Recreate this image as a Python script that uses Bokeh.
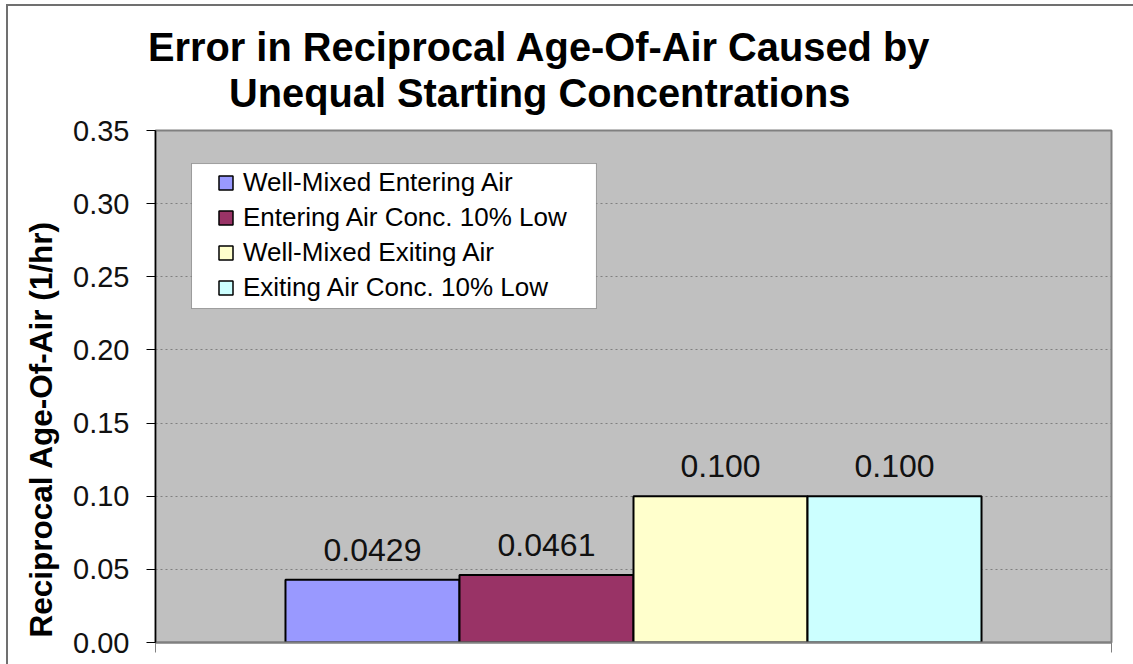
from bokeh.plotting import figure
from bokeh.models import (Range1d, FixedTicker, Title, Legend, LegendItem,
                          BoxAnnotation, ColumnDataSource)
from bokeh.core.properties import value
from bokeh.embed import file_html
from bokeh.resources import INLINE

# ---- data ----
series = ["Well-Mixed Entering Air", "Entering Air Conc. 10% Low",
          "Well-Mixed Exiting Air", "Exiting Air Conc. 10% Low"]
values = [0.0429, 0.0461, 0.100, 0.100]
value_labels = ["0.0429", "0.0461", "0.100", "0.100"]
colors = ["#9999FF", "#993366", "#FFFFCC", "#CCFFFF"]
y_ticks = [0.00, 0.05, 0.10, 0.15, 0.20, 0.25, 0.30, 0.35]
y_tick_labels = ["0.00", "0.05", "0.10", "0.15", "0.20", "0.25", "0.30", "0.35"]
title_lines = ["Error in Reciprocal Age-Of-Air Caused by",
               "Unequal Starting Concentrations"]
y_label = "Reciprocal Age-Of-Air (1/hr)"

FONT = "Liberation Sans"
positions = list(range(len(series)))
X0, X1 = -1.247, 4.247

src = ColumnDataSource(dict(x=positions, top=values, color=colors,
                            label=value_labels, name=series))

p = figure(width=1133, height=664, x_range=Range1d(X0, X1), y_range=Range1d(0, 0.35),
           output_backend="svg", toolbar_location=None, title=None,
           min_border_left=155, min_border_right=22, min_border_top=130,
           min_border_bottom=22, background_fill_color="#C0C0C0",
           border_fill_color="white",
           outline_line_color="#808080", outline_line_width=2)
# outer chart-area border (left and top edges only), drawn as an overlay
p.stylesheets = [
    ":host { position: relative; }"
    ":host::after { content: ''; position: absolute; left: 6px; top: 4px;"
    " right: 0; bottom: 0; border-left: 2px solid #707070;"
    " border-top: 2px solid #707070; pointer-events: none; }"
]

# grid
p.xgrid.visible = False
p.ygrid.ticker = FixedTicker(ticks=y_ticks)
p.ygrid.grid_line_color = "#808080"
p.ygrid.grid_line_dash = "2 3"
p.ygrid.grid_line_width = 1

# y axis
yax = p.yaxis[0]
yax.ticker = FixedTicker(ticks=y_ticks)
yax.major_label_overrides = {t: l for t, l in zip(y_ticks, y_tick_labels)}
yax.minor_tick_line_color = None
yax.major_tick_in = 0
yax.major_tick_out = 9
yax.major_tick_line_color = "black"
yax.axis_line_color = "black"
yax.axis_line_width = 1.5
yax.major_label_standoff = 17
yax.major_label_text_font = FONT
yax.major_label_text_font_size = "29px"
yax.major_label_text_color = "#111111"

# x axis (category boundaries only)
xax = p.xaxis[0]
xax.ticker = FixedTicker(ticks=[X0, X1])
xax.major_label_text_font_size = "1px"
xax.major_label_text_alpha = 0
xax.major_label_standoff = 0
xax.minor_tick_line_color = None
xax.major_tick_in = 0
xax.major_tick_out = 10
xax.major_tick_line_color = "#808080"
xax.axis_line_color = "#808080"
xax.axis_line_width = 2

# bars
p.vbar(x="x", top="top", width=1.0, fill_color="color", line_color="black",
       line_width=2, source=src)

# value labels
p.text(x="x", y="top", text="label", source=src, text_align="center",
       text_baseline="alphabetic", y_offset=-30, text_font=value(FONT),
       text_font_size="32px", text_color="#111111")

# legend box + legend
p.add_layout(BoxAnnotation(left=-1.040, right=1.287, top=0.3274, bottom=0.2283,
                           fill_color="white", fill_alpha=1.0,
                           line_color="black", line_width=1))
proxy = p.scatter(x="x", y="top", source=src, marker="square", size=0,
                  fill_color="color", line_color="black", line_width=1.5)
items = [LegendItem(label=s, renderers=[proxy], index=i) for i, s in enumerate(series)]
legend = Legend(items=items, location=(53, 337.5), glyph_width=35, glyph_height=35,
                label_height=35, spacing=0, padding=0, margin=0, label_standoff=0,
                background_fill_alpha=0, border_line_alpha=0,
                label_text_font=FONT, label_text_font_size="26px",
                label_text_color="#000000")
p.add_layout(legend, "center")

# chart title: two lines, centred on the chart area
t2 = Title(text=title_lines[1], align="left", offset=73.5, text_font=FONT,
           text_font_size="39.8px", text_font_style="bold", standoff=32,
           text_color="black")
t1 = Title(text=title_lines[0], align="left", offset=-7.5, text_font=FONT,
           text_font_size="39.8px", text_font_style="bold", standoff=-33,
           text_color="black")
p.add_layout(t2, "above")
p.add_layout(t1, "above")

ylab = Title(text=y_label, align="left", offset=5, text_font=FONT,
             text_font_size="31.5px", text_font_style="bold", standoff=23,
             text_color="black")
p.add_layout(ylab, "left")

open("out.html", "w").write(file_html(p, INLINE))
